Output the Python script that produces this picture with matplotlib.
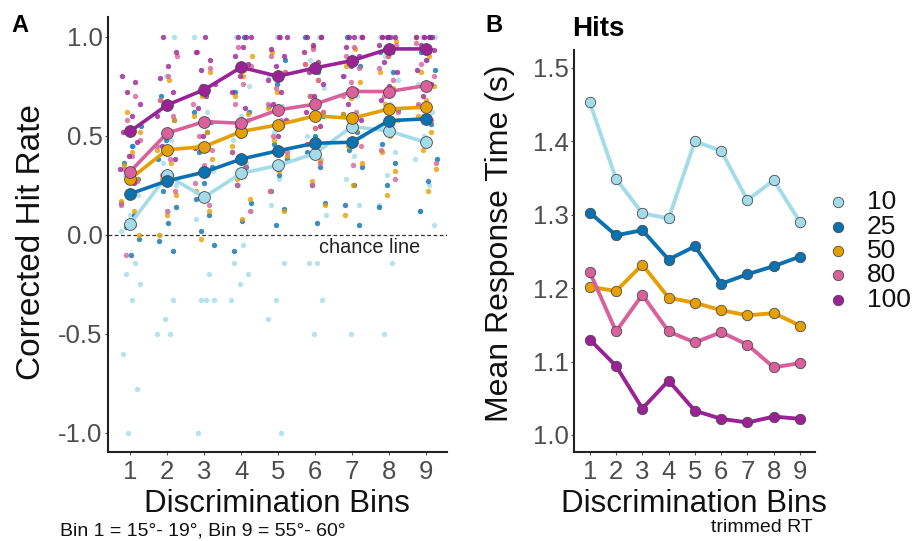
import numpy as np
import matplotlib
matplotlib.use("Agg")
import matplotlib.pyplot as plt

plt.rcParams['font.family'] = ['Liberation Sans', 'DejaVu Sans']

# ---------------------------------------------------------------- data
bins = [1, 2, 3, 4, 5, 6, 7, 8, 9]
groups = ["10", "25", "50", "80", "100"]
colors = {"10": "#a3dbe9", "25": "#0a72b0", "50": "#e69f00",
          "80": "#d9609a", "100": "#9b2196"}

# Panel A: group means of the corrected hit rate per discrimination bin
hit_mean_10 = [0.055, 0.30, 0.19, 0.31, 0.35, 0.41, 0.546, 0.524, 0.466]
hit_mean_25 = [0.207, 0.272, 0.316, 0.382, 0.424, 0.462, 0.467, 0.576, 0.585]
hit_mean_50 = [0.282, 0.429, 0.445, 0.521, 0.555, 0.600, 0.588, 0.635, 0.644]
hit_mean_80 = [0.319, 0.513, 0.571, 0.563, 0.630, 0.659, 0.723, 0.723, 0.753]
hit_mean_100 = [0.522, 0.655, 0.732, 0.845, 0.800, 0.842, 0.879, 0.938, 0.938]

# Panel A: individual participant hit rates per bin
hits_10 = [
    [0.45, 0.30, 0.20, 0.10, 0.02, -0.14, -0.20, -0.25, -0.33, -0.60, -0.78, -1.0],
    [1.0, 0.80, 0.62, 0.48, 0.36, 0.25, 0.12, 0.0, -0.33, -0.425, -0.5, -0.5],
    [1.0, 0.62, 0.45, 0.32, 0.20, 0.08, -0.20, -0.33, -0.33, -0.33, -1.0],
    [1.0, 0.75, 0.60, 0.48, 0.36, 0.25, 0.12, -0.05, -0.14, -0.20, -0.25, -0.33],
    [1.0, 0.80, 0.65, 0.52, 0.40, 0.28, 0.15, -0.14, -0.33, -0.425, -1.0],
    [1.0, 0.88, 0.74, 0.62, 0.50, 0.38, 0.25, 0.10, -0.14, -0.14, -0.33, -0.5],
    [1.0, 0.90, 0.80, 0.70, 0.60, 0.50, 0.40, 0.28, 0.15, -0.5],
    [1.0, 1.0, 0.90, 0.78, 0.66, 0.55, 0.42, 0.30, 0.15, -0.14, -0.5],
    [1.0, 1.0, 0.88, 0.76, 0.62, 0.50, 0.38, 0.25, 0.12, 0.05],
]
hits_25 = [
    [0.55, 0.45, 0.36, 0.28, 0.22, 0.16, 0.10, 0.04, -0.02, -0.10],
    [0.70, 0.58, 0.48, 0.38, 0.30, 0.22, 0.14, 0.06, -0.03, -0.08],
    [0.75, 0.62, 0.52, 0.42, 0.34, 0.26, 0.18, 0.10, 0.02, -0.05],
    [1.0, 0.72, 0.62, 0.52, 0.42, 0.34, 0.25, 0.16, 0.07, -0.08],
    [0.88, 0.76, 0.65, 0.55, 0.46, 0.38, 0.30, 0.22, 0.13, 0.05],
    [1.0, 0.82, 0.70, 0.60, 0.50, 0.42, 0.34, 0.25, 0.16, 0.06],
    [1.0, 0.85, 0.72, 0.61, 0.52, 0.43, 0.34, 0.25, 0.15, 0.05],
    [1.0, 0.92, 0.82, 0.72, 0.63, 0.55, 0.46, 0.36, 0.25, 0.14],
    [1.0, 0.92, 0.83, 0.74, 0.65, 0.56, 0.47, 0.38, 0.27, 0.12],
]
hits_50 = [
    [0.62, 0.52, 0.42, 0.35, 0.28, 0.22, 0.17, 0.12, 0.05, 0.0],
    [0.78, 0.68, 0.58, 0.50, 0.43, 0.36, 0.28, 0.20, 0.10, 0.0],
    [0.82, 0.70, 0.60, 0.52, 0.45, 0.38, 0.30, 0.22, 0.12, -0.02],
    [0.90, 0.80, 0.70, 0.61, 0.53, 0.45, 0.37, 0.28, 0.18, 0.08],
    [0.92, 0.82, 0.72, 0.64, 0.56, 0.48, 0.40, 0.32, 0.22, 0.12],
    [0.95, 0.86, 0.78, 0.70, 0.62, 0.54, 0.46, 0.37, 0.27, 0.15],
    [0.94, 0.85, 0.77, 0.69, 0.61, 0.53, 0.45, 0.36, 0.25, 0.10],
    [0.98, 0.90, 0.82, 0.74, 0.66, 0.58, 0.50, 0.42, 0.32, 0.20],
    [1.0, 0.90, 0.82, 0.75, 0.68, 0.60, 0.52, 0.43, 0.33, 0.22],
]
hits_80 = [
    [0.70, 0.58, 0.48, 0.40, 0.33, 0.27, 0.22, 0.15, 0.05, -0.10],
    [0.90, 0.80, 0.68, 0.60, 0.52, 0.45, 0.38, 0.30, 0.22, 0.12],
    [0.92, 0.84, 0.75, 0.66, 0.58, 0.50, 0.43, 0.35, 0.26, 0.15],
    [0.95, 0.85, 0.76, 0.66, 0.58, 0.50, 0.42, 0.34, 0.25, 0.12],
    [1.0, 0.90, 0.82, 0.74, 0.66, 0.58, 0.50, 0.42, 0.33, 0.22],
    [1.0, 0.94, 0.86, 0.78, 0.70, 0.62, 0.54, 0.46, 0.36, 0.25],
    [1.0, 0.95, 0.90, 0.84, 0.77, 0.70, 0.62, 0.54, 0.45, 0.35],
    [1.0, 0.96, 0.90, 0.84, 0.78, 0.70, 0.62, 0.53, 0.43, 0.28],
    [1.0, 0.97, 0.92, 0.86, 0.80, 0.74, 0.66, 0.58, 0.48, 0.36],
]
hits_100 = [
    [0.80, 0.77, 0.72, 0.66, 0.60, 0.52, 0.47, 0.40, 0.33, 0.26],
    [1.0, 0.92, 0.85, 0.79, 0.72, 0.66, 0.60, 0.52, 0.45, 0.38],
    [1.0, 0.92, 0.88, 0.83, 0.76, 0.70, 0.64, 0.57, 0.50, 0.44],
    [1.0, 1.0, 1.0, 0.95, 0.90, 0.86, 0.80, 0.72, 0.64, 0.55],
    [1.0, 1.0, 0.94, 0.90, 0.85, 0.78, 0.72, 0.66, 0.58, 0.50],
    [1.0, 1.0, 0.96, 0.92, 0.87, 0.82, 0.76, 0.70, 0.62, 0.55],
    [1.0, 1.0, 1.0, 0.95, 0.90, 0.85, 0.80, 0.73, 0.66, 0.58],
    [1.0, 1.0, 1.0, 1.0, 0.96, 0.92, 0.87, 0.82, 0.75, 0.68],
    [1.0, 1.0, 1.0, 1.0, 0.96, 0.93, 0.88, 0.83, 0.76, 0.70],
]

# Panel B: mean response time (s) on hit trials
rt_10 = [1.453, 1.349, 1.302, 1.295, 1.400, 1.387, 1.320, 1.347, 1.290]
rt_25 = [1.303, 1.272, 1.279, 1.239, 1.257, 1.206, 1.219, 1.230, 1.243]
rt_50 = [1.202, 1.196, 1.232, 1.187, 1.180, 1.170, 1.163, 1.166, 1.149]
rt_80 = [1.222, 1.141, 1.191, 1.141, 1.126, 1.140, 1.123, 1.092, 1.098]
rt_100 = [1.130, 1.094, 1.036, 1.074, 1.033, 1.022, 1.017, 1.025, 1.022]

hit_means = {"10": hit_mean_10, "25": hit_mean_25, "50": hit_mean_50,
             "80": hit_mean_80, "100": hit_mean_100}
hit_points = {"10": hits_10, "25": hits_25, "50": hits_50,
              "80": hits_80, "100": hits_100}
rts = {"10": rt_10, "25": rt_25, "50": rt_50, "80": rt_80, "100": rt_100}

# ---------------------------------------------------------------- figure
W, H = 917, 541
fig = plt.figure(figsize=(W / 100, H / 100), dpi=100)


def box(x0, y0, x1, y1):
    return [x0 / W, 1 - y1 / H, (x1 - x0) / W, (y1 - y0) / H]


axA = fig.add_axes(box(108, 17, 447, 452))
axB = fig.add_axes(box(574, 50, 815, 452))

tick_grey = "#4d4d4d"
for ax in (axA, axB):
    for s in ("top", "right"):
        ax.spines[s].set_visible(False)
    for s in ("left", "bottom"):
        ax.spines[s].set_linewidth(1.5)
        ax.spines[s].set_color("#222222")
    ax.tick_params(length=2, width=0.8, color="#555555", labelcolor=tick_grey,
                   labelsize=18.5)
    ax.tick_params(axis="y", pad=2)
    ax.tick_params(axis="x", pad=4)
    ax.set_xlim(0.4, 9.57)
    ax.set_xticks(bins)

# ---- Panel A: individual points with deterministic horizontal spread
golden = 0.6180339887
for gi, g in enumerate(groups):
    xs, ys = [], []
    for bi, vals in enumerate(hit_points[g]):
        for k, v in enumerate(vals):
            frac = ((k + 1) * golden + gi * 0.37 + bi * 0.21) % 1.0
            xs.append(bins[bi] + (frac - 0.5) * 0.58)
            ys.append(v)
    axA.scatter(xs, ys, s=15, color=colors[g], alpha=0.8, linewidths=0,
                zorder=2)

axA.axhline(0, color="#333333", lw=0.9, ls=(0, (3, 2)), zorder=1)

for g in groups:
    axA.plot(bins, hit_means[g], color=colors[g], lw=2.6, zorder=3,
             marker="o", ms=8.5, mec="#4a4a4a", mew=0.6, mfc=colors[g])

axA.set_ylim(-1.096, 1.099)
axA.set_yticks([-1.0, -0.5, 0.0, 0.5, 1.0])
axA.set_yticklabels(["-1.0", "-0.5", "0.0", "0.5", "1.0"])
axA.text(6.1, -0.065, "chance line", fontsize=14.3, color="#222222",
         ha="left", va="center", zorder=4)

# ---- Panel B: response times
for g in groups:
    axB.plot(bins, rts[g], color=colors[g], lw=2.8, zorder=3,
             marker="o", ms=7.5, mec="#4a4a4a", mew=0.6, mfc=colors[g])
axB.set_ylim(0.9768, 1.5245)
axB.set_yticks([1.0, 1.1, 1.2, 1.3, 1.4, 1.5])
axB.set_yticklabels(["1.0", "1.1", "1.2", "1.3", "1.4", "1.5"])

# ---- legend (manual, ggplot style)
leg_y = [202, 227, 251, 275, 300]
for g, yy in zip(groups, leg_y):
    fig.lines.append(plt.Line2D([838 / W], [1 - yy / H], marker="o", ms=7.5,
                                mfc=colors[g], mec="#4a4a4a", mew=0.6,
                                ls="none", transform=fig.transFigure))
    fig.text(867 / W, 1 - yy / H, g, fontsize=19, color="#111111",
             ha="left", va="center")

# ---- text
fig.text(20 / W, 1 - 26 / H, "A", fontsize=17, fontweight="bold",
         ha="center", va="center")
fig.text(494 / W, 1 - 25 / H, "B", fontsize=17, fontweight="bold",
         ha="center", va="center")
fig.text(572 / W, 1 - 29 / H, "Hits", fontsize=20, fontweight="bold",
         ha="left", va="center")

fig.text(32 / W, 1 - 242 / H, "Corrected Hit Rate", fontsize=24,
         rotation=90, ha="center", va="center", color="#111111")
fig.text(500 / W, 1 - 243 / H, "Mean Response Time (s)", fontsize=23,
         rotation=90, ha="center", va="center", color="#111111")
fig.text(277 / W, 1 - 504 / H, "Discrimination Bins", fontsize=22.5,
         ha="center", va="center", color="#111111")
fig.text(694 / W, 1 - 504 / H, "Discrimination Bins", fontsize=22.5,
         ha="center", va="center", color="#111111")
fig.text(60 / W, 1 - 531 / H, "Bin 1 = 15°- 19°, Bin 9 = 55°- 60°",
         fontsize=14, ha="left", va="center", color="#111111")
fig.text(813 / W, 1 - 528 / H, "trimmed RT", fontsize=14,
         ha="right", va="center", color="#111111")

fig.savefig("out.png", dpi=100, facecolor="white")
